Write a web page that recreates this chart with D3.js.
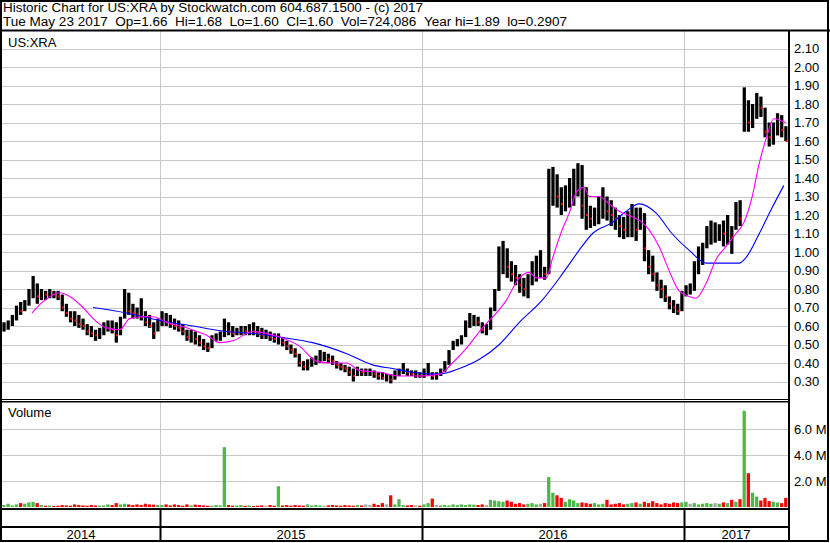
<!DOCTYPE html>
<html><head><meta charset="utf-8">
<script src="https://cdn.jsdelivr.net/npm/d3@7"></script>
<style>
html,body{margin:0;padding:0;background:#fff;}
svg{display:block;font-family:"Liberation Sans",Arial,sans-serif;}
</style></head><body>
<svg id="chart" width="830" height="543"></svg>
<script>
// ---- Data (each bar = ~4 trading days) ----
const hi = [0.62,0.63,0.66,0.71,0.73,0.74,0.80,0.87,0.83,0.80,
0.79,0.80,0.79,0.79,0.77,0.72,0.68,0.68,0.66,0.64,
0.61,0.60,0.58,0.59,0.62,0.63,0.63,0.62,0.65,0.80,
0.78,0.72,0.70,0.75,0.68,0.66,0.62,0.64,0.68,0.67,
0.66,0.64,0.63,0.61,0.58,0.58,0.57,0.55,0.53,0.51,
0.55,0.56,0.57,0.64,0.62,0.60,0.59,0.60,0.60,0.61,
0.62,0.60,0.59,0.58,0.57,0.56,0.56,0.54,0.52,0.50,
0.48,0.45,0.41,0.42,0.43,0.44,0.47,0.46,0.45,0.44,
0.41,0.40,0.39,0.38,0.37,0.38,0.37,0.37,0.37,0.36,
0.35,0.35,0.34,0.34,0.36,0.37,0.40,0.37,0.36,0.36,
0.35,0.37,0.40,0.35,0.35,0.37,0.41,0.47,0.52,0.53,
0.55,0.63,0.67,0.66,0.65,0.62,0.61,0.70,0.80,1.03,
1.06,1.02,0.95,0.93,0.88,0.86,0.88,0.95,0.98,1.01,
0.92,1.45,1.46,1.42,1.35,1.36,1.40,1.45,1.48,1.47,
1.35,1.25,1.24,1.30,1.35,1.30,1.28,1.24,1.20,1.19,
1.22,1.26,1.24,1.24,1.21,1.01,0.98,0.89,0.85,0.82,
0.76,0.74,0.72,0.79,0.82,0.83,0.95,1.03,1.05,1.14,
1.17,1.16,1.15,1.17,1.20,1.14,1.27,1.28,1.89,1.82,
1.80,1.86,1.84,1.78,1.70,1.70,1.75,1.74,1.68];
const lo = [0.57,0.58,0.60,0.63,0.66,0.68,0.71,0.75,0.72,0.74,
0.74,0.75,0.75,0.74,0.68,0.65,0.62,0.60,0.59,0.58,
0.55,0.54,0.52,0.53,0.55,0.57,0.56,0.51,0.55,0.64,
0.66,0.64,0.64,0.63,0.60,0.59,0.53,0.57,0.60,0.60,
0.59,0.58,0.57,0.55,0.52,0.51,0.50,0.49,0.47,0.46,
0.48,0.52,0.52,0.54,0.55,0.54,0.55,0.55,0.55,0.55,
0.55,0.54,0.53,0.53,0.52,0.51,0.50,0.49,0.47,0.45,
0.43,0.38,0.36,0.36,0.38,0.39,0.40,0.41,0.40,0.39,
0.37,0.36,0.35,0.33,0.30,0.33,0.33,0.33,0.33,0.32,
0.31,0.31,0.30,0.29,0.31,0.33,0.34,0.33,0.33,0.32,
0.32,0.32,0.33,0.31,0.31,0.33,0.35,0.39,0.47,0.49,
0.50,0.54,0.59,0.60,0.60,0.56,0.55,0.58,0.68,0.79,
0.88,0.86,0.84,0.82,0.78,0.76,0.75,0.82,0.84,0.86,
0.85,0.88,1.25,1.24,1.20,1.22,1.24,1.25,1.30,1.18,
1.12,1.13,1.14,1.15,1.18,1.17,1.14,1.12,1.08,1.07,
1.08,1.08,1.06,1.12,0.95,0.88,0.84,0.79,0.75,0.73,
0.69,0.67,0.66,0.68,0.76,0.77,0.79,0.88,0.93,1.02,
1.04,1.05,1.06,1.03,1.04,0.99,1.12,1.14,1.65,1.65,
1.67,1.72,1.73,1.62,1.57,1.58,1.63,1.62,1.60];
const cl = [0.58,0.61,0.64,0.70,0.68,0.72,0.78,0.80,0.76,0.78,
0.77,0.78,0.77,0.76,0.70,0.67,0.64,0.63,0.61,0.60,
0.57,0.56,0.55,0.56,0.58,0.60,0.58,0.55,0.63,0.72,
0.68,0.67,0.66,0.65,0.62,0.60,0.56,0.62,0.64,0.62,
0.61,0.60,0.59,0.57,0.54,0.55,0.53,0.51,0.49,0.48,
0.53,0.54,0.55,0.58,0.57,0.56,0.57,0.58,0.57,0.58,
0.57,0.56,0.55,0.55,0.54,0.53,0.54,0.51,0.49,0.47,
0.45,0.40,0.38,0.39,0.41,0.42,0.43,0.43,0.42,0.41,
0.39,0.38,0.37,0.35,0.33,0.36,0.35,0.35,0.35,0.34,
0.33,0.32,0.32,0.31,0.34,0.35,0.36,0.35,0.34,0.34,
0.33,0.34,0.35,0.33,0.33,0.36,0.39,0.45,0.50,0.51,
0.53,0.60,0.62,0.63,0.62,0.58,0.58,0.68,0.76,0.95,
0.98,0.92,0.88,0.86,0.82,0.80,0.84,0.88,0.90,0.90,
0.88,1.30,1.38,1.30,1.26,1.30,1.34,1.38,1.40,1.25,
1.20,1.18,1.20,1.25,1.28,1.22,1.20,1.18,1.14,1.12,
1.15,1.18,1.12,1.18,1.02,0.92,0.88,0.82,0.80,0.76,
0.72,0.70,0.68,0.76,0.80,0.80,0.90,0.96,1.00,1.08,
1.10,1.10,1.12,1.10,1.12,1.08,1.22,1.18,1.72,1.70,
1.72,1.80,1.78,1.65,1.62,1.66,1.70,1.66,1.60];
const vol = [0.15,0.25,0.12,0.2,0.3,0.25,0.35,0.4,0.3,0.15,
0.1,0.12,0.08,0.1,0.15,0.12,0.1,0.2,0.15,0.12,
0.1,0.15,0.12,0.1,0.12,0.2,0.15,0.3,0.2,0.25,
0.2,0.15,0.2,0.15,0.25,0.2,0.18,0.15,0.15,0.2,
0.12,0.2,0.15,0.1,0.2,0.12,0.18,0.15,0.12,0.1,
0.1,0.15,0.12,4.6,0.15,0.1,0.12,0.15,0.1,0.12,
0.08,0.1,0.12,0.1,0.15,0.1,1.6,0.12,0.15,0.1,
0.15,0.12,0.1,0.2,0.12,0.15,0.12,0.1,0.12,0.15,
0.12,0.1,0.15,0.12,0.1,0.15,0.12,0.2,0.15,0.25,
0.15,0.3,0.2,0.9,0.2,0.6,0.15,0.12,0.15,0.12,
0.1,0.2,0.3,0.65,0.15,0.12,0.15,0.12,0.2,0.15,
0.2,0.15,0.2,0.18,0.15,0.2,0.15,0.55,0.5,0.45,
0.4,0.5,0.4,0.25,0.3,0.2,0.25,0.3,0.2,0.25,
0.3,2.3,1.1,0.9,0.7,0.4,0.6,0.5,0.3,0.35,
0.3,0.25,0.3,0.2,0.25,0.55,0.2,0.25,0.3,0.2,
0.25,0.3,0.35,0.25,0.4,0.3,0.45,0.3,0.2,0.3,
0.25,0.35,0.3,0.35,0.4,0.25,0.3,0.2,0.25,0.3,
0.25,0.3,0.25,0.35,0.3,0.55,0.4,0.6,7.4,2.6,
1.1,0.8,0.5,0.7,0.45,0.4,0.35,0.3,0.7];
// moving averages (position in bar units, value)
const maFastAt = [7.2,9.8,13.9,16.3,19.5,21.9,25.2,28.3,30.7,33.9,36.3,39.6,44.4,49.2,52.4,55.5,60.3,63.6,66.8,71.6,75.6,78.8,82.9,86.0,90.8,95.6,100.4,105.2,108.3,111.7,114.8,121.3,124.4,126.8,128.5,130.9,132.3,134.7,136.4,138.3,140.0,141.2,143.6,146.0,148.4,151.5,153.9,155.6,158.0,160.4,162.8,165.2,166.9,169.3,171.7,174.1,176.5,178.4,180.4,182.1,183.7,185.6,187.3,188.5];
const maFastVal = [0.67,0.73,0.78,0.76,0.70,0.64,0.59,0.58,0.64,0.65,0.65,0.62,0.59,0.55,0.51,0.52,0.57,0.56,0.54,0.49,0.41,0.40,0.40,0.36,0.35,0.33,0.33,0.34,0.40,0.48,0.57,0.74,0.86,0.89,0.86,0.86,0.96,1.12,1.21,1.33,1.35,1.30,1.30,1.26,1.22,1.19,1.16,1.12,1.03,0.90,0.79,0.76,0.75,0.83,0.96,1.03,1.10,1.16,1.30,1.48,1.61,1.72,1.71,1.70];
const maSlowAt = [21.9,30.0,37.9,45.9,54.0,60.3,66.8,74.7,82.9,89.1,93.9,98.7,105.2,110.0,114.8,119.6,124.4,129.9,134.7,138.8,142.0,146.8,150.1,153.2,157.3,161.1,165.2,169.3,173.2,177.2,178.9,182.1,185.2,188.0];
const maSlowVal = [0.70,0.67,0.63,0.60,0.57,0.56,0.54,0.51,0.45,0.39,0.37,0.35,0.34,0.37,0.42,0.50,0.62,0.74,0.88,1.01,1.10,1.16,1.22,1.26,1.21,1.10,1.01,0.94,0.94,0.94,0.97,1.10,1.24,1.36];
const years = ["2014","2015","2016","2017"];
const yearStart = [0,38,101,164];
const priceTicks = [0.3,0.4,0.5,0.6,0.7,0.8,0.9,1.0,1.1,1.2,1.3,1.4,1.5,1.6,1.7,1.8,1.9,2.0,2.1];
const volTicks = [2,4,6];
const titleLine1 = "Historic Chart for US:XRA by Stockwatch.com 604.687.1500 - (c) 2017";
const titleLine2 = "Tue May 23 2017  Op=1.66  Hi=1.68  Lo=1.60  Cl=1.60  Vol=724,086  Year hi=1.89  lo=0.2907";

// ---- Layout ----
const svg = d3.select("#chart");
const N = hi.length;
const L = 2, R = 788, AX = 789;
const x = d3.scaleLinear().domain([0, N]).range([L, R]);
const y = d3.scaleLinear().domain([0.3, 2.1]).range([381.5, 48.5]);
const yv = d3.scaleLinear().domain([0, 6]).range([507, 429]);
const step = x(1) - x(0);
const GRID = "#c8c8c8";

svg.append("rect").attr("width",830).attr("height",543).attr("fill","#fff");

// gridlines price
const gp = svg.append("g");
gp.selectAll("line.h").data(priceTicks).join("line")
  .attr("x1",L).attr("x2",R).attr("y1",d=>Math.round(y(d))+0.5).attr("y2",d=>Math.round(y(d))+0.5)
  .attr("stroke",GRID).attr("stroke-width",1);
gp.selectAll("line.v").data(yearStart.slice(1)).join("line")
  .attr("x1",d=>Math.round(x(d))+0.5).attr("x2",d=>Math.round(x(d))+0.5).attr("y1",31).attr("y2",399)
  .attr("stroke",GRID);
// gridlines volume
const gv = svg.append("g");
gv.selectAll("line.h").data(volTicks).join("line")
  .attr("x1",L).attr("x2",R).attr("y1",d=>Math.round(yv(d))+0.5).attr("y2",d=>Math.round(yv(d))+0.5)
  .attr("stroke",GRID);
gv.selectAll("line.v").data(yearStart.slice(1)).join("line")
  .attr("x1",d=>Math.round(x(d))+0.5).attr("x2",d=>Math.round(x(d))+0.5).attr("y1",402).attr("y2",508)
  .attr("stroke",GRID);

// price bars
const idx = d3.range(N);
svg.append("g").selectAll("rect").data(idx).join("rect")
  .attr("x",i=>x(i)+0.4).attr("width",step-0.9)
  .attr("y",i=>y(hi[i])).attr("height",i=>Math.max(1,y(lo[i])-y(hi[i])))
  .attr("fill","#000");
// close marks on down bars
svg.append("g").selectAll("rect").data(idx.filter(i=>i>0 && cl[i]<cl[i-1])).join("rect")
  .attr("x",i=>x(i)+step-2.4).attr("width",2)
  .attr("y",i=>y(cl[i])-1).attr("height",2)
  .attr("fill","#ff0000");

// moving averages
const line = d3.line().x(d=>x(d[0])).y(d=>y(d[1])).curve(d3.curveMonotoneX);
svg.append("path").attr("d",line(maSlowAt.map((a,i)=>[a,maSlowVal[i]])))
  .attr("fill","none").attr("stroke","#0000ff").attr("stroke-width",1.1);
svg.append("path").attr("d",line(maFastAt.map((a,i)=>[a,maFastVal[i]])))
  .attr("fill","none").attr("stroke","#ff00ff").attr("stroke-width",1.1);

// volume bars
const vcol = i => i===0 ? "#4db848" : (cl[i]>cl[i-1] ? "#4db848" : (cl[i]<cl[i-1] ? "#ff0000" : "#a8a8a8"));
svg.append("g").selectAll("rect").data(idx).join("rect")
  .attr("x",i=>x(i)+0.3).attr("width",step-0.9)
  .attr("y",i=>yv(vol[i])).attr("height",i=>yv(0)-yv(vol[i]))
  .attr("fill",vcol);

// frame lines
const fr = svg.append("g").attr("stroke","#000").attr("fill","none");
fr.append("rect").attr("x",1).attr("y",1).attr("width",827).attr("height",540).attr("stroke-width",2);
fr.append("line").attr("x1",0).attr("x2",830).attr("y1",30.5).attr("y2",30.5).attr("stroke-width",2);
fr.append("line").attr("x1",AX).attr("x2",AX).attr("y1",31).attr("y2",542).attr("stroke-width",2);
fr.append("line").attr("x1",0).attr("x2",AX).attr("y1",399.5).attr("y2",399.5).attr("stroke-width",1);
fr.append("line").attr("x1",0).attr("x2",AX).attr("y1",401.8).attr("y2",401.8).attr("stroke-width",1.6);
fr.append("line").attr("x1",0).attr("x2",AX).attr("y1",509).attr("y2",509).attr("stroke-width",2);
fr.append("line").attr("x1",0).attr("x2",AX).attr("y1",527).attr("y2",527).attr("stroke-width",2);
fr.selectAll("line.ys").data(yearStart.slice(1)).join("line")
  .attr("x1",d=>Math.round(x(d))+0.5).attr("x2",d=>Math.round(x(d))+0.5)
  .attr("y1",509).attr("y2",541).attr("stroke-width",2);

// axes labels
const fmtP = d3.format(".2f");
const ax = svg.append("g").attr("transform",`translate(${AX},0)`)
  .call(d3.axisRight(y).tickValues(priceTicks).tickFormat(fmtP).tickSize(0).tickPadding(5));
const axv = svg.append("g").attr("transform",`translate(${AX},0)`)
  .call(d3.axisRight(yv).tickValues(volTicks).tickFormat(d=>d.toFixed(1)+" M").tickSize(0).tickPadding(5));
[ax,axv].forEach(g=>{
  g.select(".domain").remove();
  g.selectAll("text").attr("font-family","'Liberation Sans',Arial,sans-serif").attr("font-size",13).attr("fill","#000");
});

// year labels
const bounds = yearStart.concat([N]);
svg.append("g").selectAll("text").data(years).join("text")
  .attr("x",(d,i)=>(x(bounds[i])+x(bounds[i+1]))/2).attr("y",539)
  .attr("text-anchor","middle").attr("font-size",13).text(d=>d);

// titles (double spaces kept as no-break spaces)
const keep = s => s.replace(/  /g, "\u00A0\u00A0");
const T = svg.append("g").attr("fill","#000");
T.append("text").attr("x",3).attr("y",11.5).attr("font-size",12.5)
  .attr("textLength",420).attr("lengthAdjust","spacingAndGlyphs").text(titleLine1);
T.append("text").attr("x",3).attr("y",26).attr("font-size",12.5)
  .attr("textLength",564).attr("lengthAdjust","spacingAndGlyphs").text(keep(titleLine2));
T.append("text").attr("x",8).attr("y",47).attr("font-size",13).text("US:XRA");
T.append("text").attr("x",8).attr("y",417).attr("font-size",13).text("Volume");
</script>
</body></html>
